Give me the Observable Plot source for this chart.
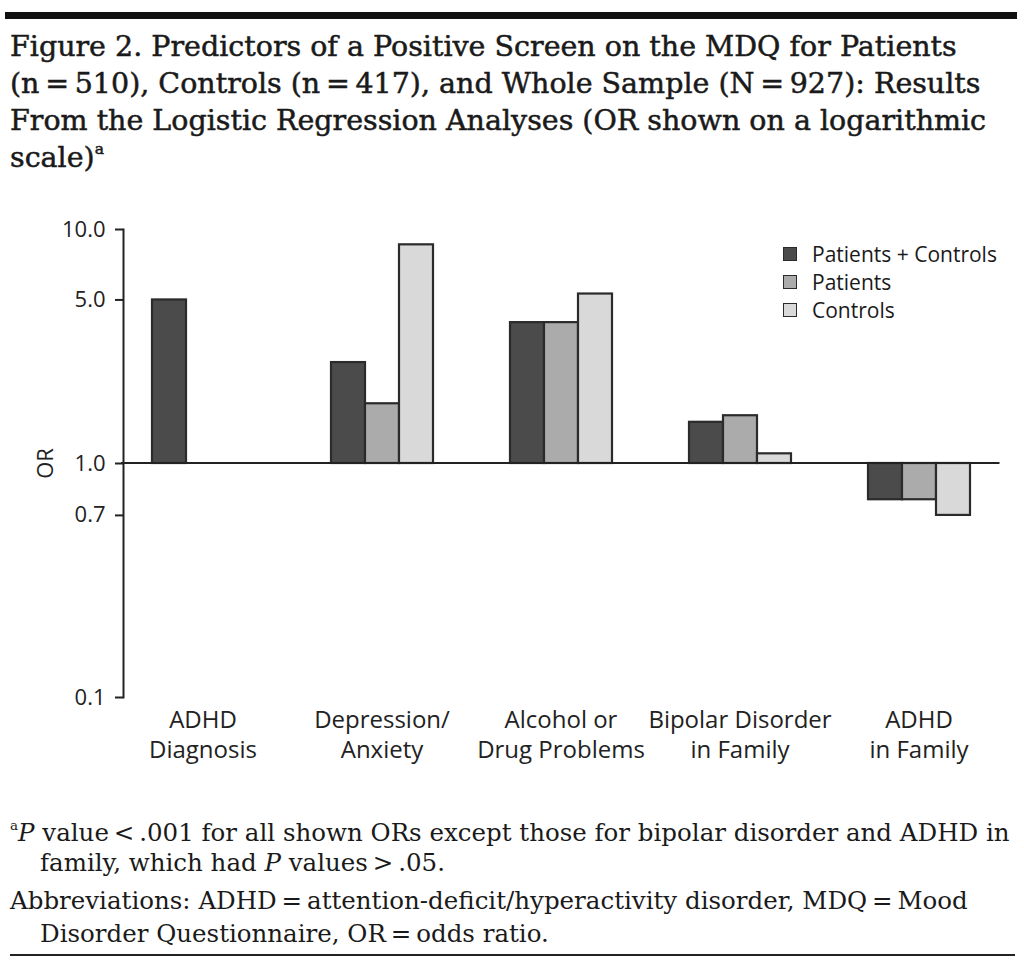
<!DOCTYPE html>
<html>
<head>
<meta charset="utf-8">
<script src="https://cdn.jsdelivr.net/npm/d3@7"></script>
<script src="https://cdn.jsdelivr.net/npm/@observablehq/plot@0.6"></script>
<style>
  html, body { margin: 0; padding: 0; background: #fff; }
  #page { position: relative; width: 1024px; height: 965px; overflow: hidden; color: #1a1a1a; }
  .rule-top { position: absolute; left: 5px; top: 12px; width: 1012px; height: 7px; background: #111; }
  .rule-bottom { position: absolute; left: 10px; top: 954px; width: 1005px; height: 2px; background: #222; }
  #title { position: absolute; left: 10px; top: 28px; font-family: "DejaVu Serif", serif; font-size: 28.5px; line-height: 37px; white-space: nowrap; -webkit-text-stroke: 0.5px #1a1a1a; }
  #title sup, #foot sup { font-size: 0.55em; vertical-align: 0.8em; line-height: 0; }
  #chart { position: absolute; left: 0; top: 190px; }
  #legend { position: absolute; left: 783px; top: 240px; font-family: "Open Sans", sans-serif; font-size: 21px; }
  #legend .item { display: flex; align-items: center; height: 28px; }
  #legend .sw { width: 12px; height: 12px; border: 1.5px solid #2b2b2b; margin-right: 15px; }
  #foot { position: absolute; left: 10px; top: 818px; width: 1014px; font-family: "DejaVu Serif", serif; font-size: 24.5px; line-height: 30px; }
  #foot p { margin: 0 0 6px 0; padding-left: 30px; text-indent: -30px; white-space: nowrap; }
  #foot p.abbr { line-height: 33px; }
</style>
</head>
<body>
<div id="page">
  <div class="rule-top"></div>
  <div id="title">Figure 2. Predictors of a Positive Screen on the MDQ for Patients<br>(n&#8201;=&#8201;510), Controls (n&#8201;=&#8201;417), and Whole Sample (N&#8201;=&#8201;927): Results<br>From the Logistic Regression Analyses (OR shown on a logarithmic<br>scale)<sup>a</sup></div>
  <div id="chart"></div>
  <div id="legend"></div>
  <div id="foot">
    <p><sup>a</sup><i>P</i> value&#8201;&lt;&#8201;.001 for all shown ORs except those for bipolar disorder and ADHD in<br>family, which had <i>P</i> values&#8201;&gt;&#8201;.05.</p>
    <p class="abbr">Abbreviations: ADHD&#8201;=&#8201;attention-deficit/hyperactivity disorder, MDQ&#8201;=&#8201;Mood<br>Disorder Questionnaire, OR&#8201;=&#8201;odds ratio.</p>
  </div>
  <div class="rule-bottom"></div>
</div>
<script>
// ---- data ----
const categories = ["ADHD Diagnosis", "Depression/Anxiety", "Alcohol or Drug Problems", "Bipolar Disorder in Family", "ADHD in Family"];
const categoryLabels = ["ADHD\nDiagnosis", "Depression/\nAnxiety", "Alcohol or\nDrug Problems", "Bipolar Disorder\nin Family", "ADHD\nin Family"];
const series = ["Patients + Controls", "Patients", "Controls"];
const patientsControls = [5.0, 2.7, 4.0, 1.5, 0.7];
const patients = [null, 1.8, 4.0, 1.6, 0.7];
const controls = [null, 8.6, 5.3, 1.1, 0.6];
const colors = ["#4b4b4b", "#ababab", "#d9d9d9"];
const yTickValues = [0.1, 0.6, 1, 5, 10];
const yTickLabels = ["0.1", "0.7", "1.0", "5.0", "10.0"];

const valuesBySeries = [patientsControls, patients, controls];
const data = [];
categories.forEach((c, i) => {
  series.forEach((s, j) => {
    const v = valuesBySeries[j][i];
    if (v != null) data.push({category: c, series: s, value: v});
  });
});
const yTicks = yTickValues.map((v, i) => ({value: v, label: yTickLabels[i]}));

const W = 1024, H = 590, mL = 121, mR = 24.5, mT = 39, mB = 83;
const plot = Plot.plot({
  width: W,
  height: H,
  marginTop: mT,
  marginBottom: mB,
  marginLeft: mL,
  marginRight: mR,
  style: {fontFamily: "'Open Sans', sans-serif", color: "#222", background: "transparent", overflow: "visible"},
  y: {type: "log", domain: [0.1, 10], axis: null},
  x: {domain: series, paddingInner: 0, paddingOuter: 0.81, axis: null},
  fx: {domain: categories, paddingInner: 0.111, paddingOuter: 0},
  color: {domain: series, range: colors},
  marks: [
    Plot.barY(data, {fx: "category", x: "series", y1: 1, y2: "value", fill: "series", stroke: "#2b2b2b", strokeWidth: 2.2}),
    Plot.frame({anchor: "left", facet: "super", stroke: "#222", strokeWidth: 2}),
    Plot.axisY({
      ticks: yTickValues,
      tickFormat: () => "",
      tickSize: 8, strokeWidth: 2,
      fontSize: 22,
      label: "OR", labelAnchor: "center", labelArrow: "none", labelOffset: 86
    }),
    Plot.text(yTicks, {
      y: "value", text: "label", frameAnchor: "left", facetAnchor: "left",
      textAnchor: "end", dx: -18, fontSize: 22, fill: "#222"
    }),
    Plot.axisFx({
      anchor: "bottom", tickSize: 0, tickPadding: 9, fontSize: 24, lineHeight: 1.25,
      tickFormat: d => categoryLabels[categories.indexOf(d)], label: null
    })
  ]
});
document.getElementById("chart").appendChild(plot);

// baseline at OR = 1 across the whole plot, positioned with Plot's own y scale
const yScale = plot.scale("y");
const y1 = yScale.apply(1);
d3.select(plot).append("line")
  .attr("x1", mL).attr("x2", W - mR)
  .attr("y1", y1).attr("y2", y1)
  .attr("stroke", "#222").attr("stroke-width", 2);

// legend (HTML)
const legend = d3.select("#legend");
series.forEach((s, j) => {
  const item = legend.append("div").attr("class", "item");
  item.append("div").attr("class", "sw").style("background", colors[j]);
  item.append("span").text(s);
});
</script>
</body>
</html>
